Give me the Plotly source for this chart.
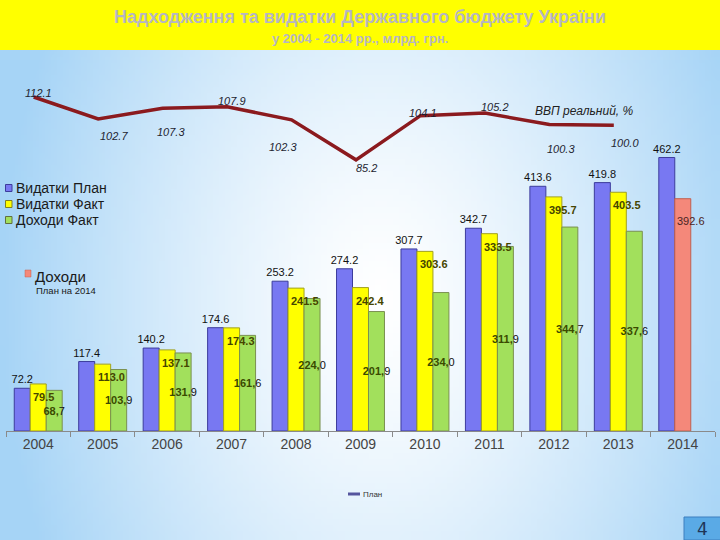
import base64
import struct
import zlib

import plotly.graph_objects as go

# ---- data ----
years = ['2004', '2005', '2006', '2007', '2008', '2009', '2010', '2011', '2012', '2013', '2014']
spend_plan = [72.2, 117.4, 140.2, 174.6, 253.2, 274.2, 307.7, 342.7, 413.6, 419.8, 462.2]
spend_fact = [79.5, 113.0, 137.1, 174.3, 241.5, 242.4, 303.6, 333.5, 395.7, 403.5, None]
income_fact = [68.7, 103.9, 131.9, 161.6, 224.0, 201.9, 234.0, 311.9, 344.7, 337.6, None]
income_plan_year = ['2014']
income_plan = [392.6]
gdp_years = years[:10]
gdp = [112.1, 102.7, 107.3, 107.9, 102.3, 85.2, 104.1, 105.2, 100.3, 100.0]

# label offsets for the GDP line (pixels), style only
gdp_dx = [5, 16, 8, 5, -9, 11, 3, 10, 12, 11]
gdp_dy = [4, -17, -24, 6, -27, -8, 3, 6, -24, -18]

W, H = 720, 540
FONT = 'Liberation Sans, Arial, sans-serif'


def px(x):
    return x / W


def py(y):
    return 1 - y / H


# soft blue-white slide background, built as a small png
def background_uri(w=120, h=90):
    blue = (166, 212, 246)
    rows = b''
    for j in range(h):
        row = bytearray([0])
        for i in range(w):
            x = (i + 0.5) / w * W
            y = (j + 0.5) / h * H
            t = (((x - 380) / 380) ** 2 + ((y - 300) / 560) ** 2) ** 0.5
            t = min(1.0, t) ** 1.3
            for c in blue:
                row.append(int(round(255 + (c - 255) * t)))
        rows += bytes(row)

    def chunk(tag, data):
        return struct.pack('>I', len(data)) + tag + data + struct.pack('>I', zlib.crc32(tag + data) & 0xffffffff)

    png = b'\x89PNG\r\n\x1a\n'
    png += chunk(b'IHDR', struct.pack('>IIBBBBB', w, h, 8, 2, 0, 0, 0))
    png += chunk(b'IDAT', zlib.compress(rows, 9))
    png += chunk(b'IEND', b'')
    return 'data:image/png;base64,' + base64.b64encode(png).decode()


def green_label(v):
    if v is None:
        return ''
    whole, dec = f'{v:.1f}'.split('.')
    return f"<span style='color:#3a4a00'><b>{whole},</b></span>{dec}"


def note(x, y, text, size, color, xanchor='center', family=FONT):
    # free text placed in page pixels
    return dict(x=px(x), y=py(y), xref='paper', yref='paper', showarrow=False,
                xanchor=xanchor, yanchor='middle', text=text,
                font=dict(family=family, size=size, color=color))


fig = go.Figure()

fig.add_trace(go.Bar(
    x=years, y=spend_plan, name='Видатки План', offsetgroup='1',
    marker=dict(color='#7878f2', line=dict(color='#3c3c9c', width=1)),
    text=[f'{v:.1f}' for v in spend_plan], textposition='outside',
    textfont=dict(family=FONT, size=11, color='#111111'),
    constraintext='none', cliponaxis=False, showlegend=False,
))
fig.add_trace(go.Bar(
    x=years, y=spend_fact, name='Видатки Факт', offsetgroup='2',
    marker=dict(color='#ffff00', line=dict(color='#a0a020', width=1)),
    showlegend=False,
))
fig.add_trace(go.Bar(
    x=income_plan_year, y=income_plan, name='Доходи План на 2014', offsetgroup='2',
    marker=dict(color='#f4887a', line=dict(color='#c06050', width=1)),
    showlegend=False,
))
fig.add_trace(go.Bar(
    x=years, y=income_fact, name='Доходи Факт', offsetgroup='3',
    marker=dict(color='#a2e05c', line=dict(color='#7a9050', width=1)),
    text=[green_label(v) for v in income_fact], textposition='inside',
    insidetextanchor='middle', textangle=0, constraintext='none',
    textfont=dict(family=FONT, size=11, color='#111111'),
    showlegend=False,
))

fig.add_trace(go.Scatter(
    x=gdp_years, y=gdp, xaxis='x2', yaxis='y2', mode='lines',
    line=dict(color='#8b1a1e', width=3.5), showlegend=False,
))

annotations = []
# spending fact labels, anchored at the left edge of the yellow bar
# (category axes take the category index for annotations)
for i, v in enumerate(spend_fact):
    if v is None:
        continue
    annotations.append(dict(
        x=i, y=v, xref='x', yref='y', text=f'<b>{v:.1f}</b>', showarrow=False,
        xanchor='left', yanchor='top', xshift=-7, yshift=-5,
        font=dict(family=FONT, size=11, color='#454500'),
    ))
for yr, v in zip(income_plan_year, income_plan):
    annotations.append(dict(
        x=years.index(yr), y=v, xref='x', yref='y', text=f'{v:.1f}', showarrow=False,
        xanchor='left', yanchor='top', xshift=-8, yshift=-14,
        font=dict(family=FONT, size=11, color='#4a2424'),
    ))
for i, (v, dx, dy) in enumerate(zip(gdp, gdp_dx, gdp_dy)):
    annotations.append(dict(
        x=i, y=v, xref='x2', yref='y2', text=f'<i>{v:.1f}</i>', showarrow=False,
        xanchor='center', yanchor='middle',
        xshift=dx, yshift=dy, font=dict(family=FONT, size=11, color='#1e1e30'),
    ))

# titles and free text
annotations += [
    note(360, 17, '<b>Надходження та видатки Державного бюджету України</b>', 18, '#b6b6c2'),
    note(360, 39, '<b>у 2004 - 2014 рр., млрд. грн.</b>', 13, '#b6b6c2'),
    note(584, 111, '<i>ВВП реальний, %</i>', 12, '#222222'),
    note(702, 529, '4', 17, '#1f3557', family='DejaVu Sans, sans-serif'),
    note(361, 494, 'План', 8, '#333333', xanchor='left'),
]

# hand-made legend
legend_rows = [('Видатки План', '#7878f2', '#3c3c9c', 188),
               ('Видатки Факт', '#ffff00', '#808020', 204),
               ('Доходи Факт', '#a2e05c', '#607040', 220)]
shapes = [
    dict(type='rect', xref='paper', yref='paper', x0=0, x1=1, y0=py(50), y1=1,
         fillcolor='#ffff00', line=dict(width=0), layer='below'),
    dict(type='rect', xref='paper', yref='paper', x0=px(684), x1=px(721), y0=py(540), y1=py(517),
         fillcolor='#5aaae6', line=dict(color='#3d7fbf', width=1)),
    dict(type='line', xref='paper', yref='paper', x0=px(348), x1=px(360), y0=py(494), y1=py(494),
         line=dict(color='#55559e', width=3)),
    dict(type='rect', xref='paper', yref='paper', x0=px(25), x1=px(31), y0=py(277), y1=py(270),
         fillcolor='#f4887a', line=dict(color='#c06050', width=0.5)),
]
for label, fill, edge, yc in legend_rows:
    shapes.append(dict(type='rect', xref='paper', yref='paper', x0=px(5.5), x1=px(12),
                       y0=py(yc + 3.5), y1=py(yc - 3.5), fillcolor=fill,
                       line=dict(color=edge, width=1)))
    annotations.append(note(13.5, yc, label, 14, '#1a1a1a', xanchor='left'))
annotations += [
    note(33, 276, 'Доходи', 15, '#1a1a1a', xanchor='left'),
    note(34, 290, 'План на 2014', 9.5, '#1a1a1a', xanchor='left'),
]

fig.update_layout(
    width=W, height=H,
    margin=dict(l=0, r=0, t=0, b=0),
    paper_bgcolor='white', plot_bgcolor='rgba(0,0,0,0)',
    barmode='group', bargap=0.256, bargroupgap=0,
    showlegend=False,
    font=dict(family=FONT),
    xaxis=dict(domain=[px(6), px(715)], type='category', categoryorder='array',
               categoryarray=years, range=[-0.5, 10.5],
               showline=True, linecolor='#8a8a8a', linewidth=1,
               ticks='outside', tickson='boundaries', ticklen=5, tickcolor='#8a8a8a',
               tickfont=dict(family=FONT, size=14, color='#444444'),
               showgrid=False, zeroline=False, anchor='y', automargin=False),
    yaxis=dict(domain=[py(431), py(147)], range=[0, 480], visible=False,
               showgrid=False, zeroline=False, anchor='x'),
    xaxis2=dict(domain=[px(6), px(715)], type='category', categoryorder='array',
                categoryarray=years, range=[-0.43, 10.57], overlaying='x',
                anchor='y2', visible=False),
    yaxis2=dict(domain=[py(172), py(78.5)], range=[80, 120], anchor='x2',
                visible=False, showgrid=False, zeroline=False),
    annotations=annotations,
    shapes=shapes,
    images=[dict(source=background_uri(), xref='paper', yref='paper', x=0, y=1,
                 sizex=1, sizey=1, sizing='stretch', xanchor='left', yanchor='top',
                 layer='below')],
)

# the page's default body margin would push the 720x540 figure off the window
fig.write_html('out.html', config={'displayModeBar': False},
               post_script="document.body.style.margin='0';")
